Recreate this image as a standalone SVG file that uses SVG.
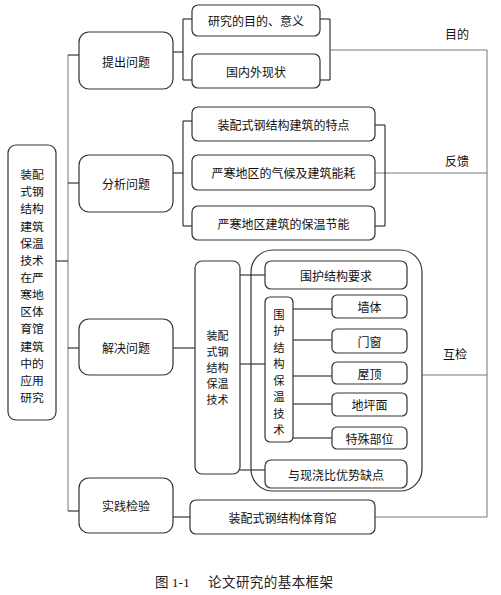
<svg xmlns="http://www.w3.org/2000/svg" width="501" height="595" viewBox="0 0 501 595">
<style>
.b{fill:#fff;stroke:#333;stroke-width:1.2}
.t{font-family:"Noto Sans CJK SC","Noto Sans",sans-serif;font-size:12px;fill:#111;text-anchor:middle;dominant-baseline:central}
.tl{font-size:11.8px}
.tt{font-size:11px}
.te{font-size:11.3px}
.c{fill:none;stroke:#111;stroke-width:1}
.g{fill:none;stroke:#777;stroke-width:1}
.cap{font-family:"Liberation Serif","Noto Sans CJK SC",serif;font-size:13.5px;fill:#222;dominant-baseline:central}
</style>
<rect width="501" height="595" fill="#fff"/>
<g id="connectors">
<path class="g" d="M68 55V511"/>
<path class="c" d="M68 55H79M68 183H79M56 261H68M68 348H79M68 511H79"/>
<path class="c" d="M173 52H183M183 19V80M183 19H192M183 80H192"/>
<path class="c" d="M320 19H330V80H320"/>
<path class="g" d="M330 50H487V517H375M375 173H487M422 375H487"/>
<path class="c" d="M173 173H183M183 121V226M183 121H192M183 226H192"/>
<path class="c" d="M375 125H385V226H375"/>
<path class="c" d="M173 348H195"/>
<path class="c" d="M240 275H265M240 364H265M240 470H265"/>
<path class="c" d="M293 309H332M293 340H332M293 376H332M293 404H332M293 438H332"/>
<path class="c" d="M173 517H190"/>
</g>
<g id="root"><rect class="b" x="8" y="145" width="48" height="275" rx="8"/>
<text class="t tl"><tspan x="32" y="173">装配</tspan><tspan x="32" y="190.2">式钢</tspan><tspan x="32" y="207.3">结构</tspan><tspan x="32" y="224.5">建筑</tspan><tspan x="32" y="241.6">保温</tspan><tspan x="32" y="258.8">技术</tspan><tspan x="32" y="275.9">在严</tspan><tspan x="32" y="293.1">寒地</tspan><tspan x="32" y="310.2">区体</tspan><tspan x="32" y="327.4">育馆</tspan><tspan x="32" y="344.5">建筑</tspan><tspan x="32" y="361.7">中的</tspan><tspan x="32" y="378.8">应用</tspan><tspan x="32" y="396">研究</tspan></text></g>
<g id="n1"><rect class="b" x="79" y="32" width="94" height="57" rx="10"/><text class="t" x="126" y="61">提出问题</text></g>
<g id="n2"><rect class="b" x="79" y="155" width="94" height="57" rx="10"/><text class="t" x="126" y="183.5">分析问题</text></g>
<g id="n3"><rect class="b" x="79" y="319" width="94" height="56" rx="10"/><text class="t" x="126" y="347">解决问题</text></g>
<g id="n4"><rect class="b" x="79" y="478" width="94" height="55" rx="10"/><text class="t" x="126" y="505">实践检验</text></g>
<g id="s1"><rect class="b" x="192" y="5" width="128" height="31" rx="6"/><text class="t" x="256" y="20.5">研究的目的、意义</text></g>
<g id="s2"><rect class="b" x="192" y="54" width="128" height="34" rx="6"/><text class="t" x="256" y="71">国内外现状</text></g>
<g id="s3"><rect class="b" x="192" y="107" width="183" height="34" rx="6"/><text class="t" x="283.5" y="124">装配式钢结构建筑的特点</text></g>
<g id="s4"><rect class="b" x="192" y="155" width="183" height="35" rx="6"/><text class="t" x="283.5" y="172.5">严寒地区的气候及建筑能耗</text></g>
<g id="s5"><rect class="b" x="192" y="206" width="183" height="34" rx="6"/><text class="t" x="283.5" y="223">严寒地区建筑的保温节能</text></g>
<g id="s6"><rect class="b" x="190" y="500" width="185" height="34" rx="6"/><text class="t" x="282.5" y="517">装配式钢结构体育馆</text></g>
<g id="tech"><rect class="b" x="195" y="261" width="45" height="213" rx="7"/>
<text class="t tt"><tspan x="217.5" y="335">装配</tspan><tspan x="217.5" y="351">式钢</tspan><tspan x="217.5" y="367">结构</tspan><tspan x="217.5" y="383">保温</tspan><tspan x="217.5" y="399">技术</tspan></text></g>
<g id="group"><rect fill="none" stroke="#333" stroke-width="1.2" x="251" y="250" width="171" height="241" rx="22"/></g>
<g id="req"><rect class="b" x="265" y="261" width="142" height="28" rx="6"/><text class="t" x="336" y="275">围护结构要求</text></g>
<g id="env"><rect class="b" x="265" y="297" width="28" height="145" rx="5"/>
<text class="t te"><tspan x="279" y="313.8">围</tspan><tspan x="279" y="330.3">护</tspan><tspan x="279" y="346.8">结</tspan><tspan x="279" y="363.3">构</tspan><tspan x="279" y="379.8">保</tspan><tspan x="279" y="396.3">温</tspan><tspan x="279" y="412.8">技</tspan><tspan x="279" y="429.3">术</tspan></text></g>
<g id="e1"><rect class="b" x="332" y="295" width="75" height="23" rx="5"/><text class="t" x="369.5" y="306.5">墙体</text></g>
<g id="e2"><rect class="b" x="332" y="329" width="75" height="24" rx="5"/><text class="t" x="369.5" y="341">门窗</text></g>
<g id="e3"><rect class="b" x="332" y="362" width="75" height="22" rx="5"/><text class="t" x="369.5" y="373">屋顶</text></g>
<g id="e4"><rect class="b" x="332" y="393" width="75" height="23" rx="5"/><text class="t" x="369.5" y="404.5">地坪面</text></g>
<g id="e5"><rect class="b" x="332" y="427" width="75" height="22" rx="5"/><text class="t" x="369.5" y="438">特殊部位</text></g>
<g id="cmp"><rect class="b" x="265" y="460" width="142" height="28" rx="6"/><text class="t" x="336" y="474">与现浇比优势缺点</text></g>
<g id="labels">
<text class="t" x="457" y="33">目的</text>
<text class="t" x="457" y="160">反馈</text>
<text class="t" x="455" y="353">互检</text>
</g>
<g id="caption">
<text class="cap" x="155" y="582">图 1-1</text>
<text class="cap" x="208" y="582" textLength="125">论文研究的基本框架</text>
</g>
</svg>
